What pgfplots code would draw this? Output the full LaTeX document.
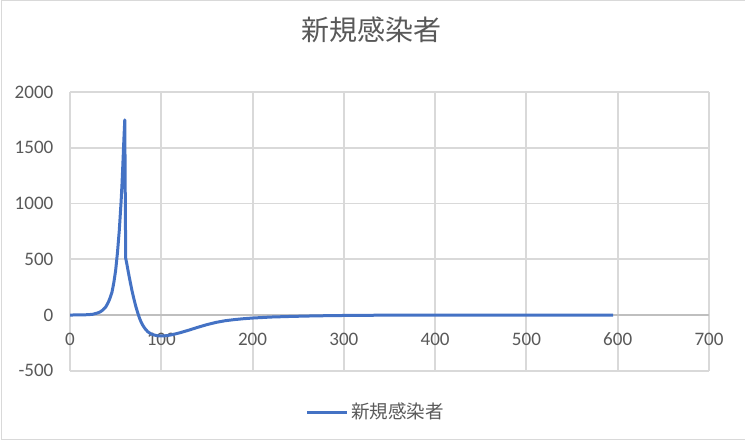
\documentclass[border=0pt]{standalone}
\usepackage{pgfplots}
\pgfplotsset{compat=1.18}
\usepackage{fontspec}
\setmainfont{Carlito}
\newfontfamily\cjk{Noto Sans CJK JP}

\definecolor{gridgray}{HTML}{D9D9D9}
\definecolor{zerogray}{HTML}{BFBFBF}
\definecolor{labelgray}{HTML}{595959}
\definecolor{lineblue}{HTML}{4472C4}

% 1 px of the reference = 0.75pt
\begin{document}
\begin{tikzpicture}
\useasboundingbox (0,0) rectangle (558.75pt,330.75pt);
\draw[gridgray, line width=1.1pt] (560pt,330.2pt) -- (1.2pt,330.2pt) -- (1.2pt,1.2pt) -- (560pt,1.2pt);

\begin{axis}[
    at={(52.5pt,52.65pt)}, anchor=south west,
    scale only axis,
    width=479.25pt, height=209.1pt,
    xmin=0, xmax=700, ymin=-500, ymax=2000,
    xtick={0,100,...,700},
    ytick={-500,0,...,2000},
    axis x line*=middle,
    axis y line*=left,
    hide obscured x ticks=false,
    hide obscured y ticks=false,
    x axis line style={-, zerogray, line width=1.4pt},
    y axis line style={-, gridgray, line width=1.4pt},
    grid=major,
    major grid style={gridgray, line width=1.4pt},
    major tick length=0pt,
    /pgf/number format/assume math mode=true,
    /pgf/number format/1000 sep={},
    tick label style={font=\fontsize{14.3}{16}\selectfont, text=labelgray, inner sep=0pt},
    xticklabel style={anchor=center, yshift=-18pt},
    yticklabel style={anchor=east, xshift=-12.3pt},
    title={\cjk 新規感染者},
    title style={at={(0.4726,1.194)}, anchor=center, inner sep=0pt,
        font=\fontsize{21}{24}\selectfont, text=labelgray},
    legend style={at={(0.479,-0.148)}, anchor=center, draw=none, fill=none,
        font=\fontsize{13.9}{16}\selectfont, text=labelgray},
    legend cell align=left,
    legend image code/.code={\draw[line width=2.25pt] (0pt,0pt) -- (30pt,0pt);},
]
\addplot[lineblue, line width=2.25pt, line join=round] coordinates {
    (0,0) (10,1) (20,3) (25,7) (30,18) (33,28) (36,45) (39,70) (42,115)
    (44,155) (46,205) (48,290) (50,400) (52,560) (54,760) (56,1020)
    (57,1180) (58,1370) (59,1570) (60,1750) (61,510) (62,470) (64,380)
    (66,295) (68,215) (70,145) (72,80) (74,25) (76,-25) (78,-65) (80,-95)
    (82,-120) (85,-148) (88,-166) (92,-179) (96,-186) (100,-188) (106,-185)
    (112,-176) (120,-160) (130,-136) (140,-110) (150,-86) (160,-66)
    (170,-51) (180,-41) (190,-33) (200,-27) (220,-18) (240,-13) (260,-9)
    (280,-6) (300,-4) (330,-2) (370,-1) (420,0) (595,0)
};
\addlegendentry{\cjk 新規感染者}
\end{axis}
\end{tikzpicture}
\end{document}
